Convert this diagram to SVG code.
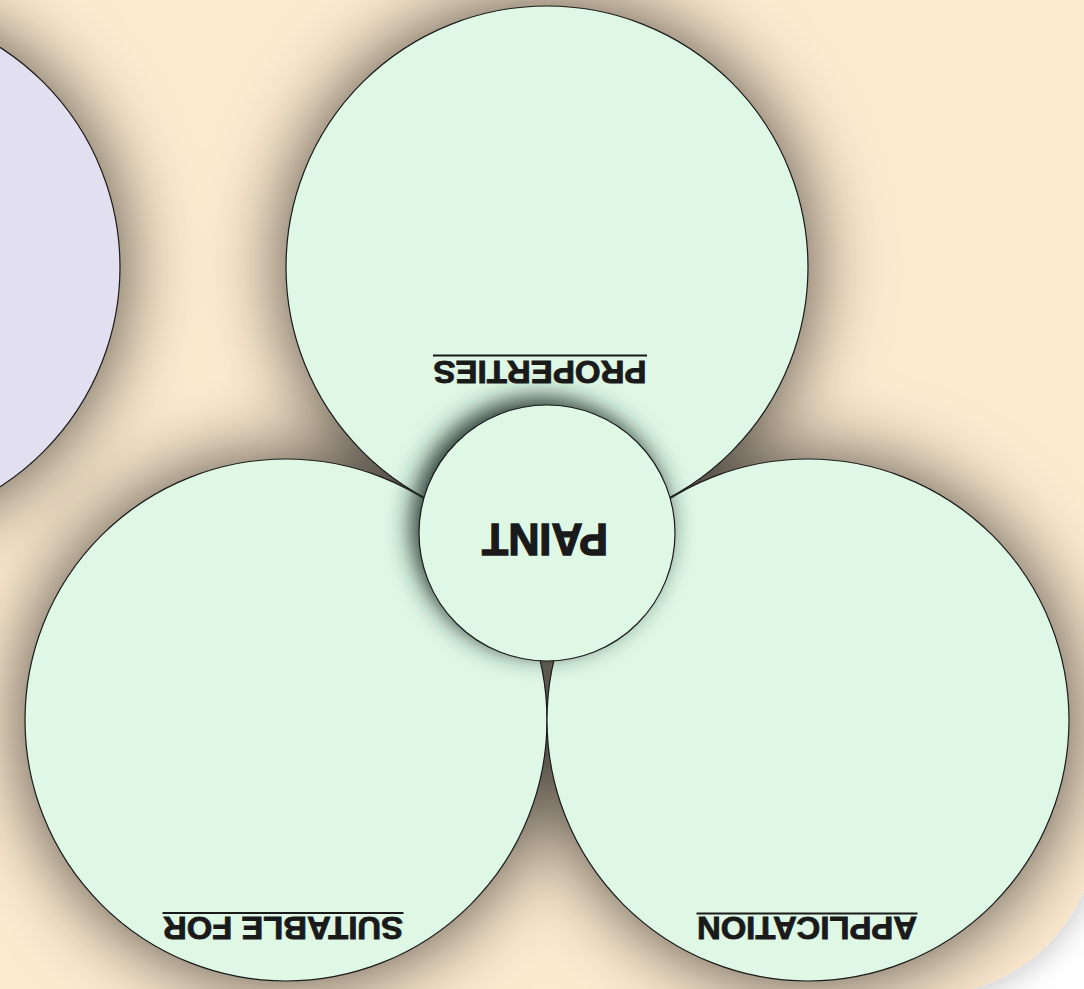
<svg xmlns="http://www.w3.org/2000/svg" width="1084" height="989" viewBox="0 0 1084 989">
  <defs>
    <filter id="bgShadow" x="-20%" y="-20%" width="140%" height="140%">
      <feDropShadow dx="4" dy="4" stdDeviation="14" flood-color="#000" flood-opacity="0.16"/>
    </filter>
    <filter id="bigShadow" x="-40%" y="-40%" width="180%" height="180%">
      <feDropShadow dx="0" dy="0" stdDeviation="40" flood-color="#000" flood-opacity="0.7"/>
    </filter>
    <filter id="hubShadow" x="-50%" y="-50%" width="200%" height="200%">
      <feDropShadow dx="-7" dy="-7" stdDeviation="12" flood-color="#1c2a26" flood-opacity="0.95"/>
    </filter>
    <style>
      .big { fill: #DEF8E5; stroke: #1a1a1a; stroke-width: 1.2; }
      .side { fill: #E2E0F0; stroke: #1a1a1a; stroke-width: 1.2; }
      .lbl { font-family: "Liberation Sans", Arial, sans-serif; font-weight: bold; font-size: 32px; fill: #1a1a1a; stroke: #1a1a1a; stroke-width: 0.9; text-anchor: middle; }
      .hub { font-family: "Liberation Sans", Arial, sans-serif; font-weight: bold; font-size: 44px; fill: #1a1a1a; stroke: #1a1a1a; stroke-width: 1.4; text-anchor: middle; }
      .ul { stroke: #1a1a1a; stroke-width: 2; }
    </style>
  </defs>

  <rect x="0" y="0" width="1084" height="989" fill="#ffffff"/>
  <rect id="background" x="-200" y="-200" width="1296.7" height="1195.4" rx="170" ry="170" fill="#FDEBD0" filter="url(#bgShadow)"/>

  <g id="connectors"></g>

  <g id="circles" filter="url(#bigShadow)">
    <g id="node-side">
      <circle class="side" cx="-141" cy="267" r="261"/>
    </g>
    <g id="node-properties">
      <circle class="big" cx="547" cy="267" r="261"/>
    </g>
    <g id="node-suitable">
      <circle class="big" cx="286" cy="720" r="261"/>
    </g>
    <g id="node-application">
      <circle class="big" cx="808" cy="720" r="261"/>
    </g>
  </g>

  <g id="labels">
    <g id="label-properties">
      <text class="lbl" x="540" y="383.3" textLength="213" lengthAdjust="spacingAndGlyphs" transform="rotate(180 540 372)">PROPERTIES</text>
      <line class="ul" x1="433" y1="355.5" x2="647" y2="355.5"/>
    </g>
    <g id="label-suitable">
      <text class="lbl" x="283" y="940" textLength="240" lengthAdjust="spacingAndGlyphs" transform="rotate(180 283 928.7)">SUITABLE FOR</text>
      <line class="ul" x1="162.5" y1="913" x2="403.5" y2="913"/>
    </g>
    <g id="label-application">
      <text class="lbl" x="807" y="940" textLength="220" lengthAdjust="spacingAndGlyphs" transform="rotate(180 807 928.7)">APPLICATION</text>
      <line class="ul" x1="696.5" y1="913.5" x2="917.5" y2="913.5"/>
    </g>
  </g>

  <g id="node-paint">
    <circle class="big" cx="547" cy="533" r="128" filter="url(#hubShadow)"/>
    <text class="hub" x="545" y="555.8" textLength="126" lengthAdjust="spacingAndGlyphs" transform="rotate(180 545 540)">PAINT</text>
  </g>
</svg>
